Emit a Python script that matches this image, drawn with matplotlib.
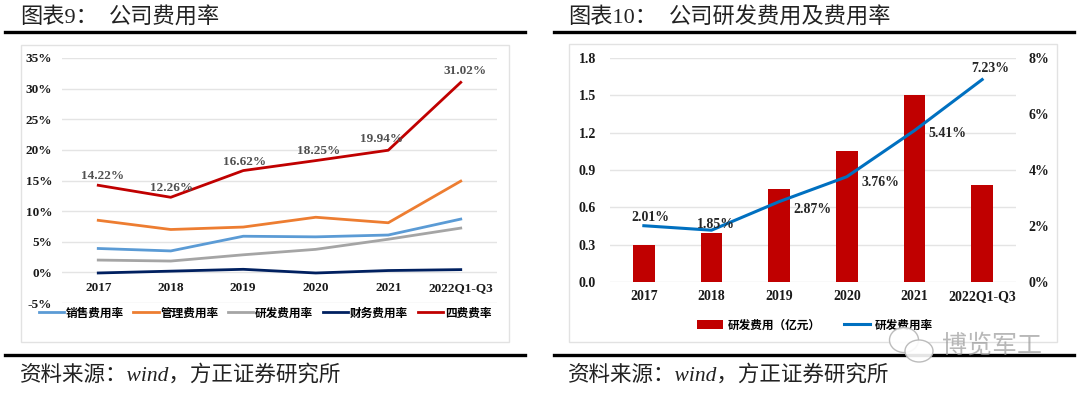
import matplotlib
matplotlib.use('Agg')
import matplotlib.pyplot as plt
from matplotlib.patches import Rectangle, Ellipse
from matplotlib.lines import Line2D

SERIF = ['Liberation Serif', 'Noto Sans CJK SC']
CJK = ['Noto Sans CJK SC', 'Liberation Serif']
plt.rcParams['font.family'] = SERIF

W, H = 1080, 393

# Left chart data
years = ['2017', '2018', '2019', '2020', '2021', '2022Q1-Q3']
sales_rate = [3.9, 3.5, 5.9, 5.8, 6.1, 8.7]
admin_rate = [8.5, 7.0, 7.4, 9.0, 8.1, 14.9]
rd_rate = [2.01, 1.85, 2.87, 3.76, 5.41, 7.23]
fin_rate = [-0.1, 0.2, 0.5, -0.1, 0.3, 0.45]
total_rate = [14.22, 12.26, 16.62, 18.25, 19.94, 31.02]
total_labels = ['14.22%', '12.26%', '16.62%', '18.25%', '19.94%', '31.02%']
left_ticks = [-5, 0, 5, 10, 15, 20, 25, 30, 35]

# Right chart data
rd_cost = [0.30, 0.39, 0.75, 1.05, 1.50, 0.78]
rd_labels = ['2.01%', '1.85%', '2.87%', '3.76%', '5.41%', '7.23%']
cost_ticks = [0.0, 0.3, 0.6, 0.9, 1.2, 1.5, 1.8]
rate_ticks = [0, 2, 4, 6, 8]

fig = plt.figure(figsize=(W / 100, H / 100), dpi=100, facecolor='white')


def px_axes(x0, y0, x1, y1):
    # pixel box, y measured from the top of the image
    ax = fig.add_axes([x0 / W, 1 - y1 / H, (x1 - x0) / W, (y1 - y0) / H])
    ax.patch.set_alpha(0)
    return ax


def style_axes(ax, size):
    for s in ax.spines.values():
        s.set_visible(False)
    ax.grid(axis='y', color='#e4e4e4', lw=1)
    ax.set_axisbelow(True)
    ax.tick_params(length=0, labelsize=size, colors='#1a1a1a')
    ax.set_xlim(-0.5, 5.5)
    for t in ax.get_yticklabels() + ax.get_xticklabels():
        t.set_fontweight('bold')


def frame(x0, y0, x1, y1, line_x0, line_x1, top_y, bot_y, head, head_x, title, title_x):
    fig.add_artist(Rectangle((x0 / W, 1 - y1 / H), (x1 - x0) / W, (y1 - y0) / H,
                             transform=fig.transFigure, fc='white', ec='#e2e2e2', lw=1, zorder=-1))
    for yy in (top_y, bot_y):
        fig.add_artist(Line2D([line_x0 / W, line_x1 / W], [1 - yy / H] * 2, color='black', lw=2.4, zorder=-1))
    fig.text(head_x / W, 1 - 18 / H, head, fontsize=16, va='center', color='#222222', family=SERIF)
    fig.text(title_x / W, 1 - 18 / H, title, fontsize=16, va='center', color='#222222', family=SERIF)
    fig.text(head_x / W, 1 - 375 / H, '资料来源：wind，方正证券研究所', fontsize=15.5, va='center',
             style='italic', color='#222222', family=SERIF)


frame(21, 45, 509, 342, 5, 525, 32, 355, '图表9：', 20, '公司费用率', 109)
frame(569, 44, 1057, 342, 554, 1074, 32, 355, '图表10：', 568, '公司研发费用及费用率', 669)

# Left chart
ax1 = px_axes(62, 58, 497, 303)
ax1.set_ylim(-5, 35)
ax1.set_yticks(left_ticks)
ax1.set_yticklabels([f'{v}%' for v in left_ticks])
ax1.set_xticks(range(6))
ax1.set_xticklabels(years)
series = [(sales_rate, '#5b9bd5', '销售费用率'), (admin_rate, '#ed7d31', '管理费用率'),
          (rd_rate, '#a5a5a5', '研发费用率'), (fin_rate, '#002060', '财务费用率'),
          (total_rate, '#c00000', '四费费率')]
for vals, col, name in series:
    ax1.plot(range(6), vals, color=col, lw=2, label=name)
style_axes(ax1, 9.5)
# category labels sit right under the zero line
ax1.tick_params(axis='x', pad=-15)
ax1.tick_params(axis='y', pad=7)
total_off = [(3, 7), (0.5, 7), (1, 6.5), (2, 7), (-5, 8), (3, 8)]
for i, (v, s) in enumerate(zip(total_rate, total_labels)):
    ax1.annotate(s, (i, v), xytext=total_off[i], textcoords='offset points', ha='center', va='center',
                 fontsize=9.5, fontweight='bold', color='#505050')
ax1.legend(loc='center', bbox_to_anchor=(265 / W, 1 - 313 / H), bbox_transform=fig.transFigure,
           ncol=5, frameon=False, handlelength=2.15, handletextpad=0.15, columnspacing=0.85,
           prop={'family': CJK, 'size': 8.4, 'weight': 'bold'})

# Right chart
ax2 = px_axes(610, 58, 1016, 282)
ax2.bar(range(6), rd_cost, width=0.32, color='#c00000', label='研发费用（亿元）')
ax2.set_ylim(0, 1.8)
ax2.set_yticks(cost_ticks)
ax2.set_yticklabels([f'{v:.1f}' for v in cost_ticks])
ax2.set_xticks(range(6))
ax2.set_xticklabels(years)
style_axes(ax2, 10)
ax2.tick_params(axis='x', pad=6)
ax2.tick_params(axis='y', pad=10)

ax3 = ax2.twinx()
ax3.plot(range(6), rd_rate, color='#0070c0', lw=2.2, label='研发费用率')
ax3.set_ylim(0, 8)
ax3.set_yticks(rate_ticks)
ax3.set_yticklabels([f'{v}%' for v in rate_ticks], fontweight='bold')
ax3.tick_params(length=0, labelsize=10, colors='#1a1a1a', pad=9)
for s in ax3.spines.values():
    s.set_visible(False)
label_off = [(5, 6), (3, 4), (24, -6), (24, -4), (24, -2), (6, 8)]
for i, (v, s) in enumerate(zip(rd_rate, rd_labels)):
    ax3.annotate(s, (i, v), xytext=label_off[i], textcoords='offset points', ha='center', va='center',
                 fontsize=10, fontweight='bold', color='#262626')
h1, l1 = ax2.get_legend_handles_labels()
h2, l2 = ax3.get_legend_handles_labels()
ax3.legend(h1 + h2, l1 + l2, loc='center', bbox_to_anchor=(815 / W, 1 - 325 / H), bbox_transform=fig.transFigure,
           ncol=2, frameon=False, handlelength=2.2, handletextpad=0.4, columnspacing=2.0,
           prop={'family': CJK, 'size': 8.4, 'weight': 'bold'})

# Watermark
fig.text(942 / W, 1 - 346 / H, '博览军工', fontsize=18, va='center', color='#9a9a9a', alpha=0.7, family=CJK, zorder=5)
for cx, cy, w, h in [(904, 340, 29, 25), (919, 351, 28, 22)]:
    fig.add_artist(Ellipse((cx / W, 1 - cy / H), w / W, h / H, transform=fig.transFigure,
                           fc='white', ec='#b5b5b5', lw=1, alpha=0.9, zorder=5))

fig.savefig('out.png', dpi=100)
